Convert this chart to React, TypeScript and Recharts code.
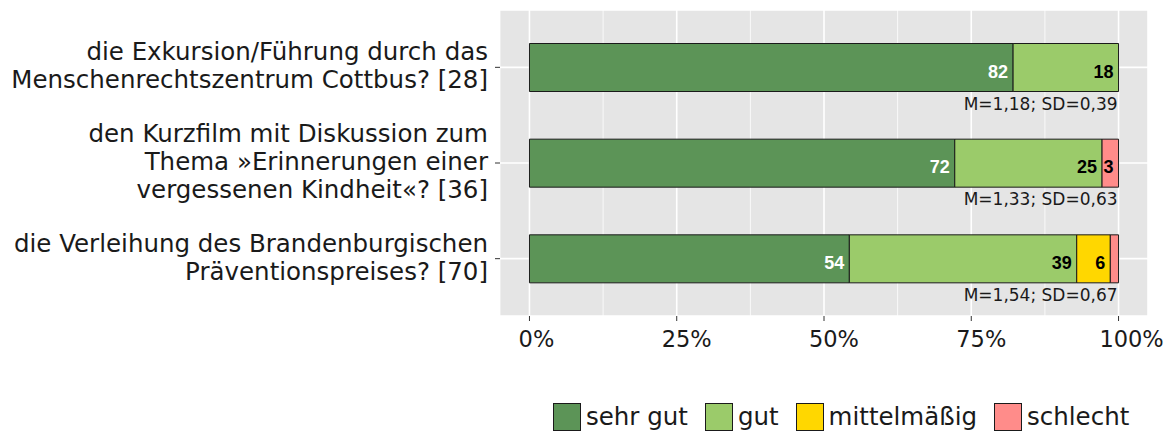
import {
  Bar,
  BarChart,
  CartesianGrid,
  LabelList,
  Legend,
  XAxis,
  YAxis,
} from 'recharts'

const categories = [
  'die Exkursion/Führung durch das\nMenschenrechtszentrum Cottbus? [28]',
  'den Kurzfilm mit Diskussion zum\nThema »Erinnerungen einer\nvergessenen Kindheit«? [36]',
  'die Verleihung des Brandenburgischen\nPräventionspreises? [70]',
]
const sehrGut = [82.1, 72.2, 54.3]
const gut = [17.9, 25.0, 38.6]
const mittel = [0, 0, 5.7]
const schlecht = [0, 2.8, 1.4]
const stats = ['M=1,18; SD=0,39', 'M=1,33; SD=0,63', 'M=1,54; SD=0,67']
const seriesNames = ['sehr gut', 'gut', 'mittelmäßig', 'schlecht']
const seriesColors = ['#5C9457', '#9BCB6A', '#FFD700', '#FF8C8A']
const xTicks = [0, 12.5, 25, 37.5, 50, 62.5, 75, 87.5, 100]

const rows = categories.map((label, i) => ({
  label,
  sehrGut: sehrGut[i],
  gut: gut[i],
  mittel: mittel[i],
  schlecht: schlecht[i],
}))

const font = "'DejaVu Sans', sans-serif"

function YTick(props: any) {
  const { x, y, payload } = props
  const lines: string[] = String(payload.value).split('\n')
  const first = -((lines.length - 1) * 28) / 2 + 7
  return (
    <text x={x} y={y} textAnchor='end' fontSize={24.5} fontFamily={font} fill='#1a1a1a'>
      {lines.map((l, i) => (
        <tspan key={i} x={x} y={y + first + i * 28}>
          {l}
        </tspan>
      ))}
    </text>
  )
}

function XTick(props: any) {
  const { x, y, payload } = props
  if (payload.value % 25 !== 0) return null
  const txt = `${payload.value}%`
  return (
    <g>
      <line x1={x} x2={x} y1={y} y2={y + 5} stroke='#333' strokeWidth={1} />
      <text
        x={x + txt.length * 3 + 1}
        y={y + 31}
        textAnchor='middle'
        fontSize={22.5}
        fontFamily={font}
        fill='#1a1a1a'
      >
        {txt}
      </text>
    </g>
  )
}

function valueLabel(color: string) {
  return (props: any) => {
    const { x, y, width, height, value } = props
    if (value == null || value < 2) return null
    return (
      <text
        x={x + width - 5}
        y={y + height / 2 + 10}
        textAnchor='end'
        fontSize={18}
        fontWeight='bold'
        fontFamily="'Liberation Sans', Arial, sans-serif"
        fill={color}
      >
        {Math.round(value)}
      </text>
    )
  }
}

function statsLabel(props: any) {
  const { x, y, width, height, value, index } = props
  const end = x + (width / value) * 100
  return (
    <text
      x={end - 1}
      y={y + height + 18}
      textAnchor='end'
      fontSize={17}
      fontFamily={font}
      fill='#1a1a1a'
    >
      {stats[index]}
    </text>
  )
}

function gridLine(props: any) {
  const major = props.index === undefined ? true : props.index % 2 === 0
  return (
    <line
      key={props.key}
      x1={props.x1}
      x2={props.x2}
      y1={props.y1}
      y2={props.y2}
      stroke='#FFFFFF'
      strokeWidth={major ? 1.6 : 0.8}
    />
  )
}

function LegendContent(props: any) {
  const items = [...(props.payload || [])].sort(
    (a: any, b: any) => seriesNames.indexOf(a.value) - seriesNames.indexOf(b.value)
  )
  return (
    <div style={{ display: 'flex', alignItems: 'center', fontFamily: font, fontSize: 24.5, color: '#1a1a1a' }}>
      {items.map((it: any) => (
        <div key={it.value} style={{ display: 'flex', alignItems: 'center', marginRight: 17 }}>
          <div
            style={{
              width: 26,
              height: 26,
              background: it.color,
              border: '1px solid #1a1a1a',
              marginRight: 5,
            }}
          />
          <span style={{ lineHeight: '28px' }}>{it.value}</span>
        </div>
      ))}
    </div>
  )
}

export default function App() {
  const keys = ['sehrGut', 'gut', 'mittel', 'schlecht']
  return (
    <div style={{ position: 'absolute', left: 0, top: 0, background: '#fff', fontFamily: font }}>
      <BarChart
        width={1169}
        height={435}
        data={rows}
        layout='vertical'
        margin={{ top: 10, right: 21, bottom: 0, left: 0 }}
      >
        <CartesianGrid fill='#E5E5E5' stroke='#FFFFFF' strokeWidth={1.6} vertical={gridLine} />
        <XAxis
          type='number'
          domain={[-5, 105]}
          ticks={xTicks}
          interval={0}
          allowDataOverflow
          axisLine={false}
          tickLine={false}
          tickSize={0}
          tickMargin={0}
          height={87}
          tick={<XTick />}
        />
        <YAxis
          type='category'
          dataKey='label'
          width={500}
          axisLine={false}
          tickLine={{ stroke: '#333' }}
          tickSize={5}
          tickMargin={7}
          padding={{ top: 9.5, bottom: 9.5 }}
          interval={0}
          tick={<YTick />}
        />
        <Legend
          verticalAlign='bottom'
          height={32}
          wrapperStyle={{ left: 553, width: 600 }}
          content={<LegendContent />}
        />
        {keys.map((k, i) => (
          <Bar
            key={k}
            dataKey={k}
            name={seriesNames[i]}
            stackId='a'
            fill={seriesColors[i]}
            stroke='#1a1a1a'
            strokeWidth={1}
            barSize={48}
            isAnimationActive={false}
          >
            <LabelList dataKey={k} content={valueLabel(i === 0 ? '#FFFFFF' : '#000000')} />
            {i === 0 ? <LabelList dataKey={k} content={statsLabel} /> : null}
          </Bar>
        ))}
      </BarChart>
    </div>
  )
}
